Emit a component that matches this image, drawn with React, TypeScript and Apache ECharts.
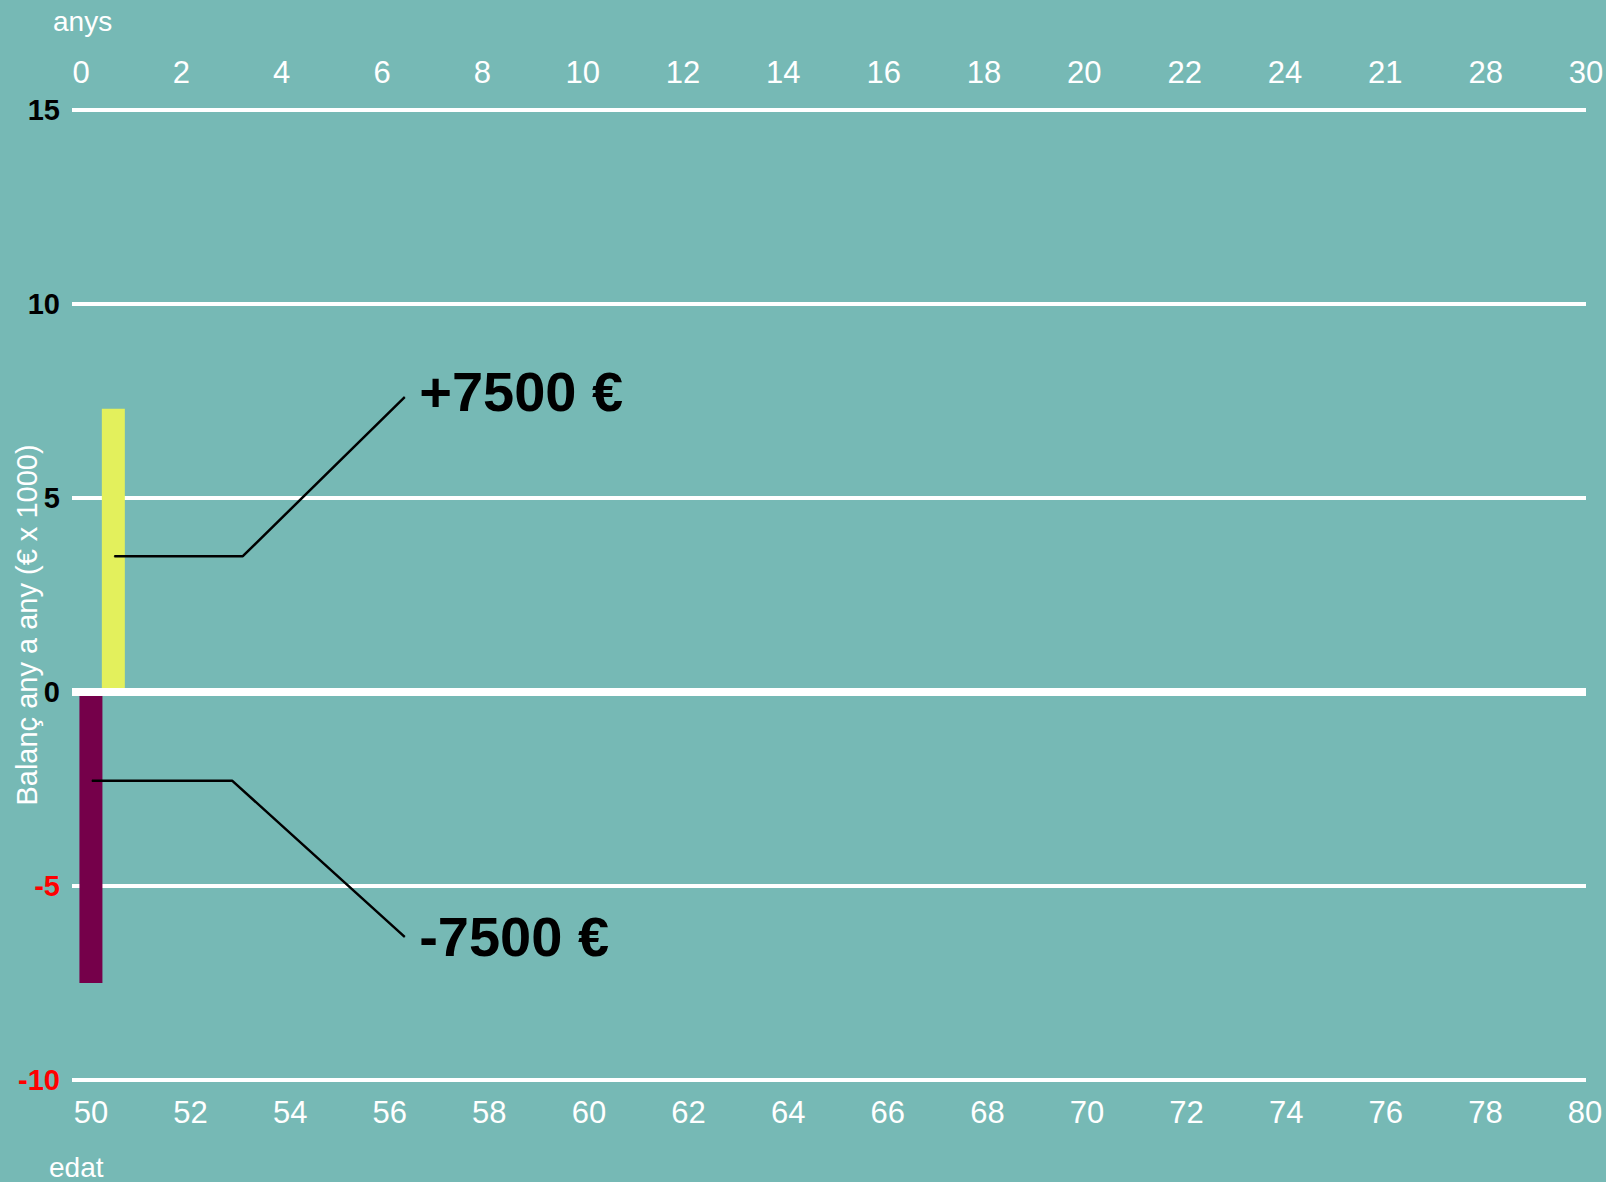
import React, { useEffect, useRef } from "react";
import * as echarts from "echarts";

// Bottom axis (age) ticks
const ageTicks = [50, 52, 54, 56, 58, 60, 62, 64, 66, 68, 70, 72, 74, 76, 78, 80];
// Top axis (years) ticks and their printed labels (as in the original, incl. "21")
const yearTicks = [0, 2, 4, 6, 8, 10, 12, 14, 16, 18, 20, 22, 24, 26, 28, 30];
const yearLabels = ["0", "2", "4", "6", "8", "10", "12", "14", "16", "18", "20", "22", "24", "21", "28", "30"];

// Series: [age, balance (€ x 1000)]
const incomeData = [[50.45, 7.3]];
const expenseData = [[50, -7.5]];

// Annotation guide lines: [age, balance]
const incomeGuide = [[50.47, 3.5], [53.05, 3.5], [56.3, 7.6]];
const expenseGuide = [[50.02, -2.29], [52.84, -2.29], [56.3, -6.31]];
const incomeLabel = "+7500 €";
const expenseLabel = "-7500 €";

const FONT = "'Liberation Sans', Arial, Helvetica, sans-serif";

function guideData(points: number[][], text: string, offsetY: number) {
  return points.map((p, i) =>
    i === points.length - 1
      ? {
          value: p,
          label: {
            show: true,
            formatter: text,
            position: "right",
            distance: 14,
            offset: [0, offsetY],
            fontSize: 56,
            fontWeight: "bold",
            color: "#000",
            fontFamily: FONT,
          },
        }
      : { value: p }
  );
}

export default function App() {
  const ref = useRef<HTMLDivElement>(null);
  useEffect(() => {
    if (!ref.current) return;
    const chart = echarts.init(ref.current, undefined, { renderer: "svg" });
    const option: any = {
      animation: false,
      backgroundColor: "#76b9b5",
      textStyle: { fontFamily: FONT },
      grid: { left: 72, right: 20, top: 110, bottom: 102, containLabel: false, outerBoundsMode: "none" },
      graphic: [
        {
          type: "text",
          left: 49,
          top: 1153,
          style: { text: "edat", fill: "#fff", font: "28px 'Liberation Sans', Arial, sans-serif" },
        },
      ],
      legend: [
        {
          data: ["Ingressos"],
          left: 463,
          top: 1180,
          icon: "rect",
          itemWidth: 11,
          itemHeight: 12,
          formatter: () => "",
          textStyle: { color: "#fff", fontSize: 11, lineHeight: 12 },
        },
        {
          data: ["Despeses"],
          left: 975,
          top: 1180,
          icon: "rect",
          itemWidth: 11,
          itemHeight: 12,
          formatter: () => "",
          textStyle: { color: "#fff", fontSize: 11, lineHeight: 12 },
        },
      ],
      xAxis: [
        {
          type: "value",
          position: "bottom",
          min: 49.62,
          max: 80.02,
          axisLine: { show: false },
          axisTick: { show: false },
          splitLine: { show: false },
          axisLabel: {
            customValues: ageTicks,
            color: "#fff",
            fontSize: 31,
            margin: 17,
          },
        },
        {
          type: "value",
          position: "top",
          min: -0.18,
          max: 30,
          name: "anys",
          nameLocation: "start",
          nameGap: 19,
          nameMoveOverlap: false,
          nameTextStyle: {
            color: "#fff",
            fontSize: 28,
            align: "left",
            verticalAlign: "bottom",
            padding: [0, 0, 75, 0],
          },
          axisLine: { show: false },
          axisTick: { show: false },
          splitLine: { show: false },
          axisLabel: {
            customValues: yearTicks,
            formatter: (v: number) => {
              const i = yearTicks.indexOf(v);
              return i >= 0 ? yearLabels[i] : "";
            },
            color: "#fff",
            fontSize: 31,
            margin: 22,
          },
        },
      ],
      yAxis: {
        type: "value",
        min: -10,
        max: 15,
        interval: 5,
        name: "Balanç any a any (€ x 1000)",
        nameLocation: "middle",
        nameRotate: 90,
        nameGap: 31,
        nameMoveOverlap: false,
        nameTextStyle: { color: "#fff", fontSize: 29, padding: [0, 60, 0, 0] },
        axisLine: { show: false },
        axisTick: { show: false },
        splitLine: { lineStyle: { color: "#fff", width: 4 } },
        axisLabel: {
          fontWeight: "bold",
          fontSize: 29,
          margin: 12,
          color: (v: any) => (Number(v) < 0 ? "#ff0000" : "#000000"),
        },
      },
      series: [
        {
          name: "Despeses",
          type: "bar",
          xAxisIndex: 0,
          data: expenseData,
          barWidth: 23,
          barGap: "-100%",
          itemStyle: { color: "#75004a" },
          z: 2,
        },
        {
          name: "Ingressos",
          type: "bar",
          xAxisIndex: 0,
          data: incomeData,
          barWidth: 23,
          barGap: "-100%",
          itemStyle: { color: "#e3f05c" },
          z: 2,
        },
        {
          name: "guia1",
          type: "line",
          xAxisIndex: 0,
          data: guideData(incomeGuide, incomeLabel, -6),
          symbol: "circle",
          symbolSize: 1,
          itemStyle: { color: "#000" },
          lineStyle: { color: "#000", width: 2.5 },
          z: 10,
          markLine: {
            silent: true,
            symbol: ["none", "none"],
            label: { show: false },
            lineStyle: { color: "#fff", width: 8, type: "solid" },
            data: [{ yAxis: 0 }],
          },
        },
        {
          name: "guia2",
          type: "line",
          xAxisIndex: 0,
          data: guideData(expenseGuide, expenseLabel, 0),
          symbol: "circle",
          symbolSize: 1,
          itemStyle: { color: "#000" },
          lineStyle: { color: "#000", width: 2.5 },
          z: 10,
        },
      ],
    };
    chart.setOption(option);
    return () => chart.dispose();
  }, []);
  return (
    <div
      ref={ref}
      style={{ position: "fixed", left: 0, top: 0, width: 1606, height: 1182 }}
    />
  );
}
